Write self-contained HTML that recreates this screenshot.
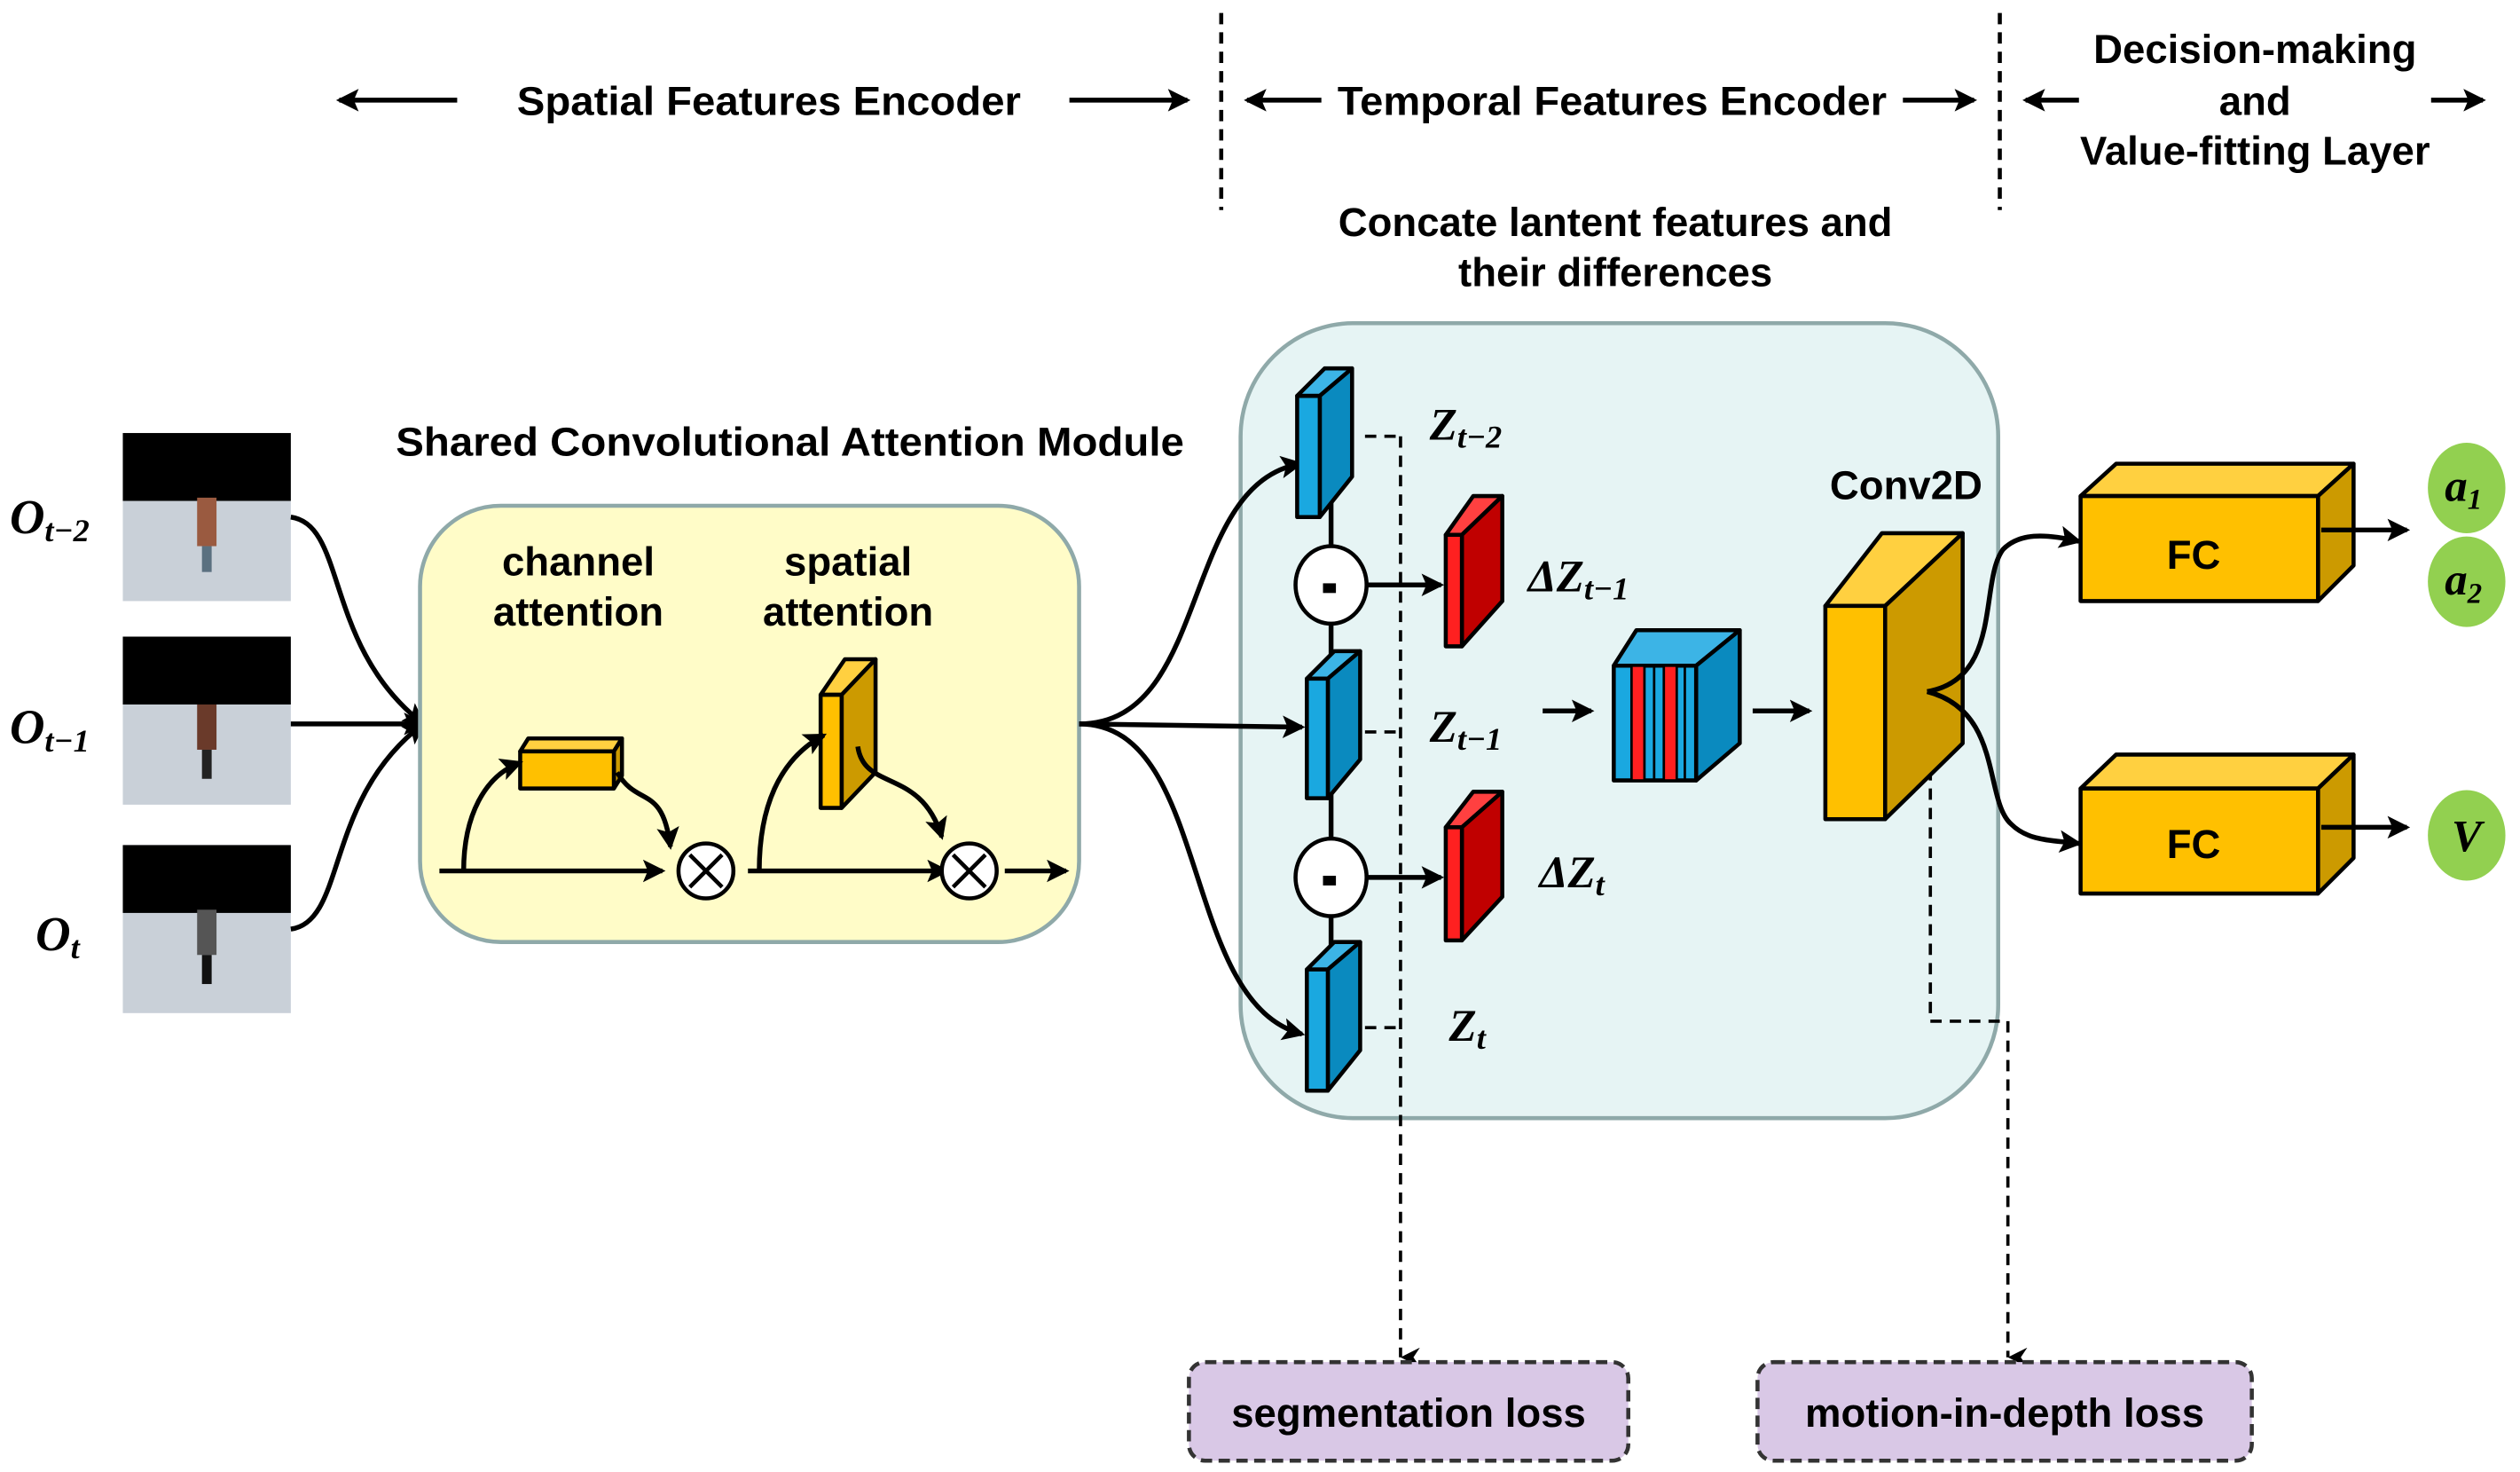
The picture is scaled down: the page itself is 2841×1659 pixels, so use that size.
<!DOCTYPE html>
<html><head><meta charset="utf-8"><style>
html,body{margin:0;padding:0;background:#fff}
svg{display:block}
text{font-family:"Liberation Sans",sans-serif;font-weight:bold;fill:#000}
.m{font-family:"Liberation Serif",serif;font-style:italic;font-weight:bold}
</style></head><body>
<svg width="2841" height="1659" viewBox="0 0 1560 911" xmlns="http://www.w3.org/2000/svg">
<defs>
<marker id="ab" markerWidth="14" markerHeight="14" refX="12" refY="7" orient="auto" markerUnits="userSpaceOnUse"><path d="M0,0 L14,7 L0,14 L3,7z" fill="#000"/></marker>
<marker id="ad" markerWidth="12" markerHeight="14" refX="6" refY="12" orient="auto-start-reverse" markerUnits="userSpaceOnUse"><path d="M0,0 L6,12 L12,0 L6,4z" fill="#000"/></marker>
</defs>
<g stroke="#000" stroke-width="3" fill="none">
<line x1="283" y1="62" x2="210" y2="62" marker-end="url(#ab)"/>
<line x1="662" y1="62" x2="735" y2="62" marker-end="url(#ab)"/>
<line x1="818" y1="62" x2="772" y2="62" marker-end="url(#ab)"/>
<line x1="1178" y1="62" x2="1222" y2="62" marker-end="url(#ab)"/>
<line x1="1287" y1="62" x2="1254" y2="62" marker-end="url(#ab)"/>
<line x1="1505" y1="62" x2="1537" y2="62" marker-end="url(#ab)"/>
</g>
<g stroke="#000" stroke-width="2.5" stroke-dasharray="7,5"><line x1="756" y1="8" x2="756" y2="130"/><line x1="1238" y1="8" x2="1238" y2="130"/></g>
<g font-size="25" text-anchor="middle">
<text x="476" y="71" textLength="312" lengthAdjust="spacingAndGlyphs">Spatial Features Encoder</text>
<text x="998" y="71" textLength="340" lengthAdjust="spacingAndGlyphs">Temporal Features Encoder</text>
<text x="1396" y="39">Decision-making</text>
<text x="1396" y="71">and</text>
<text x="1396" y="102">Value-fitting Layer</text>
<text x="1000" y="146">Concate lantent features and</text>
<text x="1000" y="177">their differences</text>
<text x="489" y="282" textLength="488" lengthAdjust="spacingAndGlyphs">Shared Convolutional Attention Module</text>
</g>
<!-- images -->
<g>
<rect x="76" y="268" width="104" height="104" fill="#c9d0d8"/><rect x="76" y="268" width="104" height="42" fill="#000"/>
<rect x="122" y="308" width="12" height="30" fill="#9a5a40"/><rect x="125" y="338" width="6" height="16" fill="#5a7080"/>
<rect x="76" y="394" width="104" height="104" fill="#c9d0d8"/><rect x="76" y="394" width="104" height="42" fill="#000"/>
<rect x="122" y="436" width="12" height="28" fill="#6a3a2a"/><rect x="125" y="464" width="6" height="18" fill="#222"/>
<rect x="76" y="523" width="104" height="104" fill="#c9d0d8"/><rect x="76" y="523" width="104" height="42" fill="#000"/>
<rect x="122" y="563" width="12" height="28" fill="#555"/><rect x="125" y="591" width="6" height="18" fill="#111"/>
</g>
<g font-size="30" class="m"><text x="6" y="330" class="m">O<tspan font-size="20" dy="5">t−2</tspan></text>
<text x="6" y="460" class="m">O<tspan font-size="20" dy="5">t−1</tspan></text>
<text x="22" y="588" class="m">O<tspan font-size="20" dy="5">t</tspan></text></g>
<g stroke="#000" stroke-width="3" fill="none">
<path d="M180,320 C215,325 200,400 262,448" marker-end="url(#ab)"/>
<line x1="180" y1="448" x2="262" y2="448" marker-end="url(#ab)"/>
<path d="M180,575 C215,570 200,495 262,448" marker-end="url(#ab)"/>
</g>
<rect x="260" y="313" width="408" height="270" rx="50" fill="#fffcc8" stroke="#8fa9a9" stroke-width="2.5"/>
<g font-size="25" text-anchor="middle"><text x="358" y="356">channel</text><text x="358" y="387">attention</text><text x="525" y="356">spatial</text><text x="525" y="387">attention</text></g>
<g stroke="#000" stroke-width="2.5" stroke-linejoin="round">
<polygon points="322,465 327,457 385,457 380,465" fill="#ffd040"/>
<polygon points="380,465 385,457 385,480 380,488" fill="#cc9a00"/>
<rect x="322" y="465" width="58" height="23" fill="#ffc000"/>
<polygon points="508,430 523,408 542,408 521,430" fill="#ffd040"/>
<polygon points="521,430 542,408 542,478 521,500" fill="#cc9a00"/>
<rect x="508" y="430" width="13" height="70" fill="#ffc000"/>
</g>
<g stroke="#000" stroke-width="3" fill="none">
<line x1="272" y1="539" x2="410" y2="539" marker-end="url(#ab)"/>
<line x1="463" y1="539" x2="586" y2="539" marker-end="url(#ab)"/>
<line x1="622" y1="539" x2="660" y2="539" marker-end="url(#ab)"/>
<path d="M287,539 C287,505 300,480 322,472" marker-end="url(#ab)"/>
<path d="M382,478 C395,500 410,485 415,524" marker-end="url(#ab)"/>
<path d="M470,539 C470,500 482,470 510,455" marker-end="url(#ab)"/>
<path d="M531,462 C535,490 570,475 583,518" marker-end="url(#ab)"/>
</g>
<g stroke="#000" stroke-width="2.5" fill="#fff"><circle cx="437" cy="539" r="17"/><circle cx="600" cy="539" r="17"/></g>
<g stroke="#000" stroke-width="2.5"><path d="M427,529 L447,549 M447,529 L427,549 M590,529 L610,549 M610,529 L590,549"/></g>
<rect x="768" y="200" width="469" height="492" rx="70" fill="#e6f4f4" stroke="#8fa9a9" stroke-width="2.5"/>
<g stroke="#000" stroke-width="3" fill="none">
<path d="M668,448 C750,448 730,300 805,287" marker-end="url(#ab)"/>
<line x1="668" y1="448" x2="806" y2="450" marker-end="url(#ab)"/>
<path d="M668,448 C750,448 730,620 806,640" marker-end="url(#ab)"/>
<line x1="824" y1="300" x2="824" y2="620"/>
</g>
<g stroke="#000" stroke-width="2.5" stroke-linejoin="round">
<polygon points="803,245 820,228 837,228 817,245" fill="#3cb4e6"/><polygon points="817,245 837,228 837,295 817,320" fill="#0a8abf"/><rect x="803" y="245" width="14" height="75" fill="#1aa8e0"/>
<polygon points="809,420 826,403 842,403 822,420" fill="#3cb4e6"/><polygon points="822,420 842,403 842,470 822,494" fill="#0a8abf"/><rect x="809" y="420" width="13" height="74" fill="#1aa8e0"/>
<polygon points="809,600 826,583 842,583 822,600" fill="#3cb4e6"/><polygon points="822,600 842,583 842,650 822,675" fill="#0a8abf"/><rect x="809" y="600" width="13" height="75" fill="#1aa8e0"/>
<polygon points="895,331 912,307 930,307 905,331" fill="#ff4040"/><polygon points="905,331 930,307 930,372 905,400" fill="#c00000"/><rect x="895" y="331" width="10" height="69" fill="#ff2020"/>
<polygon points="895,512 912,490 930,490 905,512" fill="#ff4040"/><polygon points="905,512 930,490 930,555 905,582" fill="#c00000"/><rect x="895" y="512" width="10" height="70" fill="#ff2020"/>
</g>
<g stroke="#000" stroke-width="2" stroke-dasharray="7,5" fill="none">
<path d="M845,270 L867,270 M845,453 L867,453 M845,636 L867,636"/>
<line x1="867" y1="270" x2="867" y2="840" marker-end="url(#ad)"/>
<path d="M1195,428 L1195,632 L1243,632 L1243,840" marker-end="url(#ad)"/>
</g>
<g stroke="#000" stroke-width="3" fill="none">
<line x1="846" y1="362" x2="892" y2="362" marker-end="url(#ab)"/>
<line x1="846" y1="543" x2="892" y2="543" marker-end="url(#ab)"/>
<line x1="955" y1="440" x2="985" y2="440" marker-end="url(#ab)"/>
<line x1="1085" y1="440" x2="1120" y2="440" marker-end="url(#ab)"/>
</g>
<g stroke="#000" stroke-width="2.5" fill="#fff"><ellipse cx="824" cy="362" rx="22" ry="24"/><ellipse cx="824" cy="543" rx="22" ry="24"/></g>
<rect x="819" y="361" width="8" height="6" fill="#000"/><rect x="819" y="542" width="8" height="6" fill="#000"/>
<g font-size="28" class="m">
<text x="885" y="272" class="m">Z<tspan font-size="20" dy="5">t−2</tspan></text>
<text x="946" y="366" class="m">ΔZ<tspan font-size="20" dy="5">t−1</tspan></text>
<text x="885" y="459" class="m">Z<tspan font-size="20" dy="5">t−1</tspan></text>
<text x="953" y="549" class="m">ΔZ<tspan font-size="20" dy="5">t</tspan></text>
<text x="897" y="644" class="m">Z<tspan font-size="20" dy="5">t</tspan></text>
</g>
<g stroke="#000" stroke-width="2.5" stroke-linejoin="round">
<polygon points="999,412 1013,390 1077,390 1050,412" fill="#3cb4e6"/>
<polygon points="1050,412 1077,390 1077,460 1050,483" fill="#0a8abf"/>
<rect x="999" y="412" width="51" height="71" fill="#1aa8e0"/>
</g>
<g fill="#ff2020" stroke="#000" stroke-width="1.5"><rect x="1010" y="412" width="8" height="71"/><rect x="1030" y="412" width="8" height="71"/></g>
<g stroke="#000" stroke-width="1.5"><line x1="1024" y1="412" x2="1024" y2="483"/><line x1="1043" y1="412" x2="1043" y2="483"/></g>
<text x="1180" y="309" font-size="25" text-anchor="middle">Conv2D</text>
<g stroke="#000" stroke-width="2.5" stroke-linejoin="round">
<polygon points="1130,375 1165,330 1215,330 1167,375" fill="#ffd040"/>
<polygon points="1167,375 1215,330 1215,460 1167,507" fill="#cc9a00"/>
<rect x="1130" y="375" width="37" height="132" fill="#ffc000"/>
<polygon points="1288,307 1310,287 1457,287 1435,307" fill="#ffd040"/>
<polygon points="1435,307 1457,287 1457,350 1435,372" fill="#cc9a00"/>
<rect x="1288" y="307" width="147" height="65" fill="#ffc000"/>
<polygon points="1288,488 1310,467 1457,467 1435,488" fill="#ffd040"/>
<polygon points="1435,488 1457,467 1457,531 1435,553" fill="#cc9a00"/>
<rect x="1288" y="488" width="147" height="65" fill="#ffc000"/>
</g>
<g font-size="25" text-anchor="middle"><text x="1358" y="352">FC</text><text x="1358" y="531">FC</text></g>
<g stroke="#000" stroke-width="3" fill="none">
<path d="M1193,428 C1240,420 1225,360 1240,340 C1250,330 1265,330 1287,335" marker-end="url(#ab)"/>
<path d="M1193,428 C1240,440 1228,495 1245,510 C1255,520 1268,520 1287,522" marker-end="url(#ab)"/>
<line x1="1437" y1="328" x2="1490" y2="328" marker-end="url(#ab)"/>
<line x1="1437" y1="512" x2="1490" y2="512" marker-end="url(#ab)"/>
</g>
<g fill="#92d050"><ellipse cx="1527" cy="302" rx="24" ry="28"/><ellipse cx="1527" cy="360" rx="24" ry="28"/><ellipse cx="1527" cy="517" rx="24" ry="28"/></g>
<g font-size="28" class="m" text-anchor="middle">
<text x="1525" y="310" class="m">a<tspan font-size="18" dy="5">1</tspan></text>
<text x="1525" y="368" class="m">a<tspan font-size="18" dy="5">2</tspan></text>
<text x="1527" y="527" class="m">V</text>
</g>
<g fill="#d9c8e6" stroke="#333" stroke-width="2.5" stroke-dasharray="7,4">
<rect x="736" y="843" width="272" height="61" rx="10"/>
<rect x="1088" y="843" width="306" height="61" rx="10"/>
</g>
<g font-size="25" text-anchor="middle"><text x="872" y="883">segmentation loss</text><text x="1241" y="883">motion-in-depth loss</text></g>
</svg>
</body></html>
